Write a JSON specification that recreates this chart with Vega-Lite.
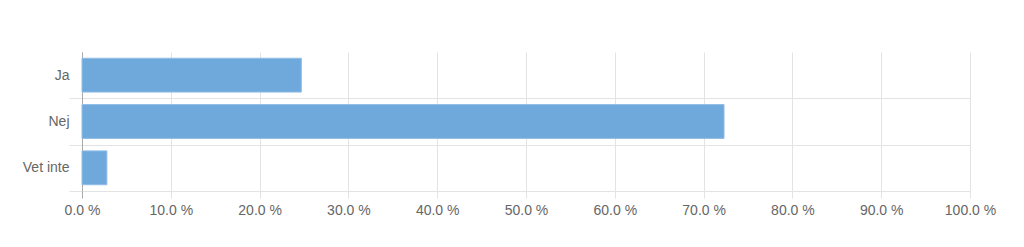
{
  "$schema": "https://vega.github.io/schema/vega-lite/v6.json",
  "autosize": "none",
  "width": 888,
  "height": 139,
  "padding": {"left": 82, "top": 52, "right": 54, "bottom": 56},
  "background": "white",
  "config": {"view": {"stroke": null}, "font": "Liberation Sans"},
  "data": {"values": [
    {"svar": "Ja", "andel": 24.7},
    {"svar": "Nej", "andel": 72.3},
    {"svar": "Vet inte", "andel": 2.8}
  ]},
  "mark": {"type": "bar", "color": "#6fa9dc", "stroke": "#8fbde6", "strokeWidth": 1, "height": {"band": 0.73}},
  "encoding": {
    "y": {
      "field": "svar", "type": "nominal", "sort": ["Ja", "Nej", "Vet inte"], "title": null,
      "scale": {"paddingInner": 0, "paddingOuter": 0},
      "axis": {
        "tickBand": "extent",
        "grid": true,
        "gridColor": "#e3e3e3",
        "gridOpacity": {"condition": {"test": "datum.extra", "value": 0}, "value": 1},
        "tickOpacity": {"condition": {"test": "datum.extra", "value": 0}, "value": 1},
        "tickColor": "#e3e3e3",
        "tickSize": 13,
        "domain": true,
        "domainColor": "#aaaaaa",
        "labelPadding": 0,
        "labelFontSize": 14,
        "labelColor": "#666666",
        "labelFont": "Liberation Sans"
      }
    },
    "x": {
      "field": "andel", "type": "quantitative", "title": null,
      "scale": {"domain": [0, 100], "nice": false},
      "axis": {
        "values": [0, 10, 20, 30, 40, 50, 60, 70, 80, 90, 100],
        "labelExpr": "format(datum.value, '.1f') + ' %'",
        "labelFlush": false,
        "grid": true,
        "gridColor": {"condition": {"test": "datum.value === 0", "value": "#aaaaaa"}, "value": "#e3e3e3"},
        "tickColor": {"condition": {"test": "datum.value === 0", "value": "#aaaaaa"}, "value": "#e3e3e3"},
        "tickSize": 7,
        "domain": false,
        "labelPadding": 5,
        "labelFontSize": 14,
        "labelColor": "#666666",
        "labelFont": "Liberation Sans"
      }
    }
  }
}
